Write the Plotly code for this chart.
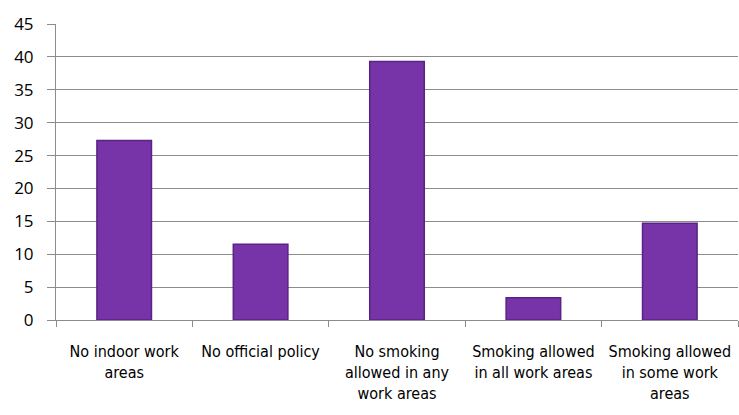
import plotly.graph_objects as go

categories = [
    "No indoor work<br>areas",
    "No official policy",
    "No smoking<br>allowed in any<br>work areas",
    "Smoking allowed<br>in all work areas",
    "Smoking allowed<br>in some work<br>areas",
]
values = [27.3, 11.5, 39.3, 3.4, 14.7]
y_ticks = [0, 5, 10, 15, 20, 25, 30, 35, 40, 45]

fig = go.Figure()
fig.add_trace(go.Bar(
    x=categories,
    y=values,
    marker=dict(color="#7634A8", line=dict(color="#5A2283", width=1.5)),
    width=0.4,
))

fig.update_layout(
    width=739, height=415,
    margin=dict(l=56, r=1, t=24, b=95),
    paper_bgcolor="white", plot_bgcolor="white",
    showlegend=False,
    font=dict(family="Liberation Sans", color="#000000"),
)
fig.update_yaxes(
    range=[0, 45], tickvals=y_ticks,
    showgrid=True, gridcolor="#8C8C8C", gridwidth=1,
    showline=True, linecolor="#8C8C8C", linewidth=1,
    ticks="outside", ticklen=8, tickcolor="#8C8C8C",
    tickfont=dict(size=17, family="Open Sans"),
    ticklabelstandoff=10,
    zeroline=False,
    automargin=False,
)
fig.update_xaxes(
    showgrid=False,
    showline=True, linecolor="#8C8C8C", linewidth=1,
    ticks="outside", ticklen=6, tickcolor="#8C8C8C",
    tickson="boundaries",
    tickfont=dict(size=16, family="DejaVu Sans Condensed, Liberation Sans"),
    ticklabelstandoff=17,
    tickangle=0,
    automargin=False,
)

fig.write_html("out.html", config={"displayModeBar": False},
               post_script="document.body.style.margin='0';")
